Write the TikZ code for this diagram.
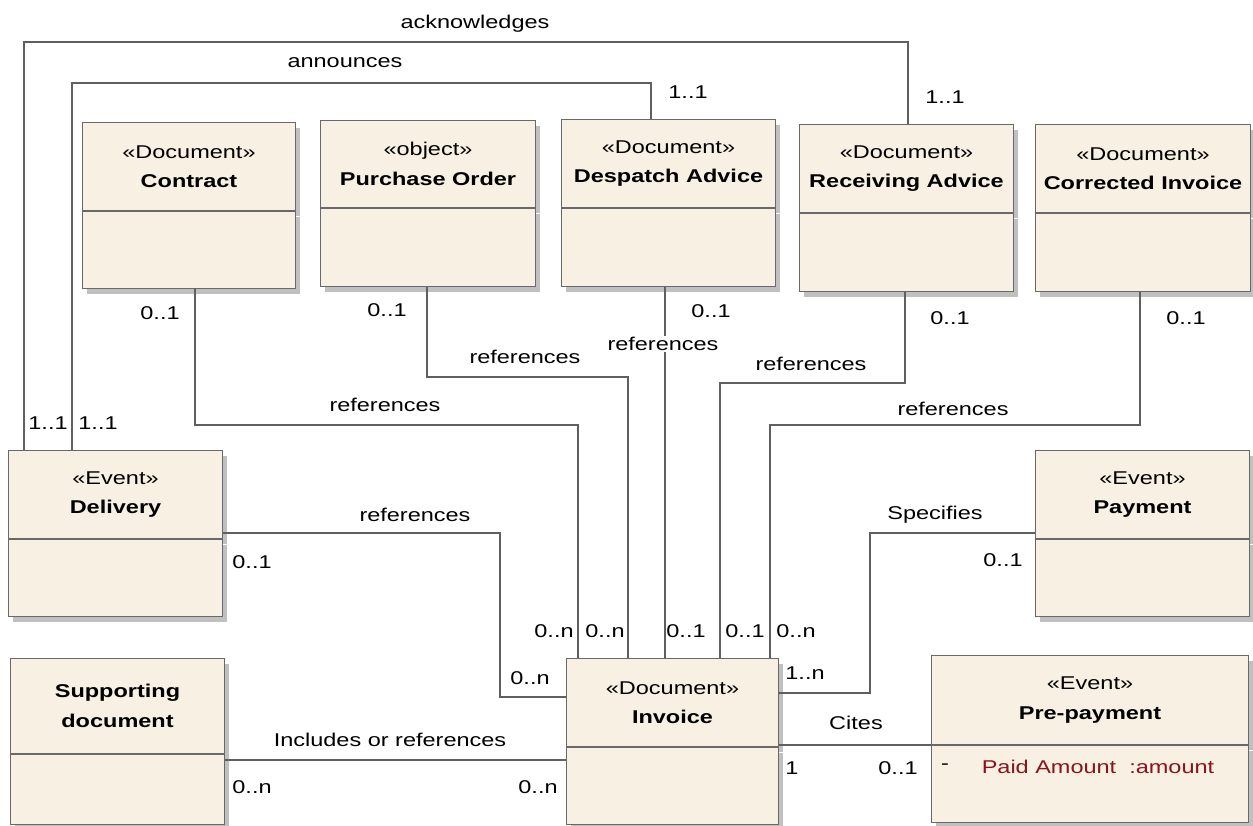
\documentclass[tikz,border=0pt]{standalone}
\usepackage{fontspec}
\setmainfont{Liberation Sans}[FakeStretch=1.27]
\usetikzlibrary{positioning, shadows}

\definecolor{classfill}{RGB}{248,240,226}
\definecolor{classline}{RGB}{105,105,105}
\definecolor{assocline}{RGB}{95,95,95}
\definecolor{attrred}{RGB}{135,20,30}

\tikzset{
  header/.style={draw=classline, fill=classfill, anchor=north west, align=center,
    inner sep=0pt, line width=1pt,
    drop shadow={shadow xshift=4pt, shadow yshift=-5pt, fill=black!55, opacity=0.45}},
  body/.style={draw=classline, fill=classfill, inner sep=0pt, line width=1pt,
    drop shadow={shadow xshift=4pt, shadow yshift=-5pt, fill=black!55, opacity=0.45}},
  assoc/.style={draw=assocline, line width=1.1pt},
  mult/.style={inner sep=1pt},
  role/.style={fill=white, inner sep=1pt},
}

\begin{document}
\begin{tikzpicture}[x=1pt, y=-1pt, font=\fontsize{18.5pt}{29.5pt}\selectfont]
    \useasboundingbox (0,0) rectangle (1253,825);

    % Classes
    \node[header, minimum width=213pt, minimum height=88pt] (contract) at (82,122) {«Document»\\\textbf{Contract}};
    \node[body, minimum width=213pt, minimum height=77pt, below=0pt of contract] (contract-body) {};

    \node[header, minimum width=215pt, minimum height=87pt] (purchase) at (320,120) {«object»\\\textbf{Purchase Order}};
    \node[body, minimum width=215pt, minimum height=78pt, below=0pt of purchase] (purchase-body) {};

    \node[header, minimum width=214pt, minimum height=88pt] (despatch) at (561,119) {«Document»\\\textbf{Despatch Advice}};
    \node[body, minimum width=214pt, minimum height=78pt, below=0pt of despatch] (despatch-body) {};

    \node[header, minimum width=214pt, minimum height=88pt] (receiving) at (799,124) {«Document»\\\textbf{Receiving Advice}};
    \node[body, minimum width=214pt, minimum height=78pt, below=0pt of receiving] (receiving-body) {};

    \node[header, minimum width=215pt, minimum height=88pt] (corrected) at (1035,124) {«Document»\\\textbf{Corrected Invoice}};
    \node[body, minimum width=215pt, minimum height=78pt, below=0pt of corrected] (corrected-body) {};

    \node[header, minimum width=214pt, minimum height=88pt] (delivery) at (8,450) {«Event»\\\textbf{Delivery}};
    \node[body, minimum width=214pt, minimum height=77pt, below=0pt of delivery] (delivery-body) {};

    \node[header, minimum width=214pt, minimum height=88pt] (payment) at (1035,450) {«Event»\\\textbf{Payment}};
    \node[body, minimum width=214pt, minimum height=77pt, below=0pt of payment] (payment-body) {};

    \node[header, minimum width=214pt, minimum height=95pt] (supporting) at (10,658) {\textbf{Supporting}\\\textbf{document}};
    \node[body, minimum width=214pt, minimum height=70pt, below=0pt of supporting] (supporting-body) {};

    \node[header, minimum width=212pt, minimum height=88pt] (invoice) at (566,658) {«Document»\\\textbf{Invoice}};
    \node[body, minimum width=212pt, minimum height=77pt, below=0pt of invoice] (invoice-body) {};

    \node[header, minimum width=317pt, minimum height=89pt] (prepay) at (931,655) {«Event»\\\textbf{Pre-payment}};
    \node[body, minimum width=317pt, minimum height=77pt, below=0pt of prepay] (prepay-body) {};
    \node (prepay-vis) at (945,767) {-};
    \node[text=attrred] (prepay-attr) at (1098,767) {Paid Amount~~:amount};

    % Associations
    \draw[assoc] (24,0 |- delivery.north) -- (24,42) -| (908,0 |- receiving.north);
    \draw[assoc] (72,0 |- delivery.north) -- (72,83) -| (651,0 |- despatch.north);
    \draw[assoc] (195,0 |- contract-body.south) |- (578,425) -- (578,0 |- invoice.north);
    \draw[assoc] (427,0 |- purchase-body.south) |- (628,377) -- (628,0 |- invoice.north);
    \draw[assoc] (665,0 |- despatch-body.south) -- (665,0 |- invoice.north);
    \draw[assoc] (905,0 |- receiving-body.south) |- (720,383) -- (720,0 |- invoice.north);
    \draw[assoc] (1140,0 |- corrected-body.south) |- (770,425) -- (770,0 |- invoice.north);
    \draw[assoc] (delivery.east |- 0,533) -- (500,533) |- (invoice.west |- 0,697);
    \draw[assoc] (payment.west |- 0,533) -- (870,533) |- (invoice.east |- 0,693);
    \draw[assoc] (supporting-body.east |- 0,760) -- (invoice-body.west |- 0,760);
    \draw[assoc] (invoice.east |- 0,745) -- (prepay.west |- 0,745);

    % Association names
    \node[role] (ack-name) at (475,24) {acknowledges};
    \node[role] (ann-name) at (345,63) {announces};
    \node[role] (ref-contract) at (385,405) {references};
    \node[role] (ref-purchase) at (525,357) {references};
    \node[role] (ref-despatch) at (663,344) {references};
    \node[role] (ref-receiving) at (811,364) {references};
    \node[role] (ref-corrected) at (953,409) {references};
    \node[role] (ref-delivery) at (415,515) {references};
    \node[role] (specifies) at (935,515) {Specifies};
    \node[role] (includes) at (390,740) {Includes or references};
    \node[role] (cites) at (856,723) {Cites};

    % Multiplicities
    \node[mult] (m-ack-del) at (48,423) {1..1};
    \node[mult] (m-ann-del) at (98,423) {1..1};
    \node[mult] (m-ann-desp) at (688,92) {1..1};
    \node[mult] (m-ack-rec) at (945,97) {1..1};
    \node[mult] (m-contract) at (160,313) {0..1};
    \node[mult] (m-purchase) at (387,310) {0..1};
    \node[mult] (m-despatch) at (711,311) {0..1};
    \node[mult] (m-receiving) at (950,318) {0..1};
    \node[mult] (m-corrected) at (1186,318) {0..1};
    \node[mult] (m-delivery) at (252,562) {0..1};
    \node[mult] (m-inv-del) at (530,678) {0..n};
    \node[mult] (m-inv-contract) at (554,631) {0..n};
    \node[mult] (m-inv-purchase) at (605,631) {0..n};
    \node[mult] (m-inv-despatch) at (686,631) {0..1};
    \node[mult] (m-inv-receiving) at (745,631) {0..1};
    \node[mult] (m-inv-corrected) at (796,631) {0..n};
    \node[mult] (m-inv-payment) at (805,673) {1..n};
    \node[mult] (m-payment) at (1003,560) {0..1};
    \node[mult] (m-supporting) at (252,787) {0..n};
    \node[mult] (m-inv-supporting) at (538,787) {0..n};
    \node[mult] (m-inv-prepay) at (792,768) {1};
    \node[mult] (m-prepay) at (898,768) {0..1};
\end{tikzpicture}
\end{document}
